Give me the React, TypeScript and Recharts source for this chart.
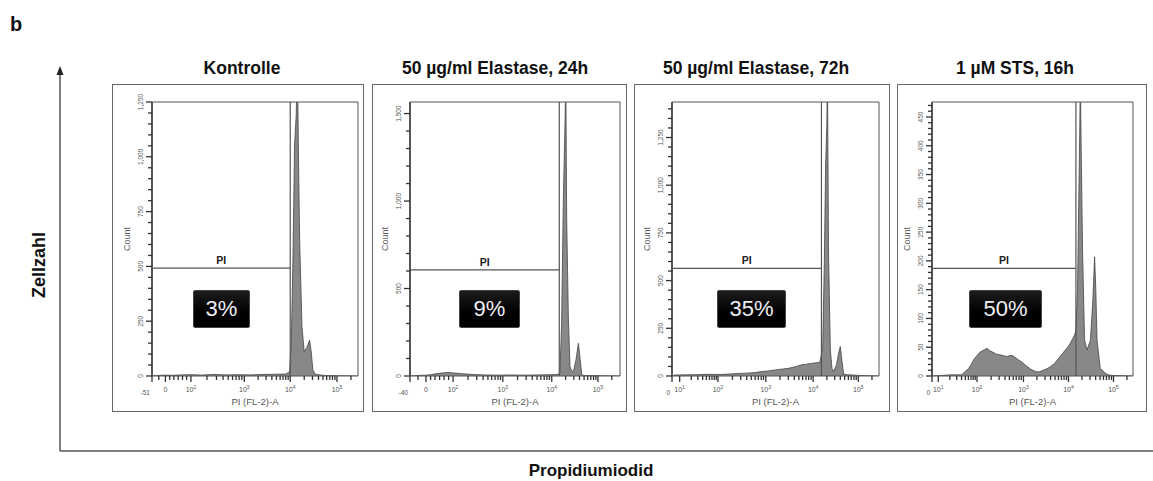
import React from 'react';
import { AreaChart, Area, XAxis, YAxis, ReferenceLine } from 'recharts';

const FONT = "'Liberation Sans', Arial, sans-serif";

// titles and gate results
const panelTitles = ['Kontrolle', '50 µg/ml Elastase, 24h', '50 µg/ml Elastase, 72h', '1 µM STS, 16h'];
const percentLabels = ['3%', '9%', '35%', '50%'];

// PI gate: marker height (count) and upper channel bound
const gateCounts = [492, 606, 564, 187];
const gateChannels = [671, 711, 722, 716];

// y-axis (Count) ranges and ticks
const countMax = [1250, 1566, 1436, 476];
const countMajors = [
  [0, 250, 500, 750, 1000, 1250],
  [0, 500, 1000, 1500],
  [0, 250, 500, 750, 1000, 1250],
  [0, 50, 100, 150, 200, 250, 300, 350, 400, 450],
];
const countMinorStep = [50, 100, 50, 10];

// x-axis (PI (FL-2)-A) in display channels 0..1000
const channelTicks = [
  [0, 65, 189, 448, 671, 898],
  [0, 76, 205, 442, 675, 895],
  [0, 37, 222, 453, 682, 900],
  [0, 31, 224, 455, 679, 903],
];
const channelTickLabels = [
  ['-51', '0', '10^2', '10^3', '10^4', '10^5'],
  ['-40', '0', '10^2', '10^3', '10^4', '10^5'],
  ['0', '10^1', '10^2', '10^3', '10^4', '10^5'],
  ['0', '10^1', '10^2', '10^3', '10^4', '10^5'],
];

// histograms: channel and count
const kontrolleChannel = [0, 20, 60, 100, 140, 190, 240, 300, 360, 420, 480, 540, 600, 650, 668, 676, 684, 692, 700, 706, 711, 717, 728, 739, 752, 765, 773, 781, 793, 805, 817, 840, 1000];
const kontrolleCount = [0, 2, 4, 3, 5, 6, 4, 7, 5, 6, 5, 7, 8, 9, 20, 150, 520, 1050, 1190, 1450, 1000, 608, 225, 111, 130, 164, 110, 27, 8, 6, 5, 2, 0];

const elastase24Channel = [0, 40, 80, 103, 130, 160, 181, 210, 250, 308, 360, 420, 480, 540, 600, 660, 700, 714, 722, 730, 738, 742, 746, 754, 762, 770, 778, 790, 802, 810, 818, 840, 900, 1000];
const elastase24Count = [0, 3, 5, 8, 14, 18, 20, 17, 13, 8, 6, 5, 6, 5, 6, 7, 8, 15, 300, 1000, 1434, 1700, 910, 339, 53, 30, 25, 90, 187, 100, 5, 3, 2, 0];

const elastase72Channel = [0, 14, 60, 120, 180, 240, 300, 360, 400, 432, 470, 500, 530, 562, 600, 624, 650, 673, 700, 715, 728, 736, 742, 748, 751, 756, 765, 773, 781, 795, 805, 813, 821, 829, 850, 880, 901, 1000];
const elastase72Count = [0, 5, 6, 7, 9, 8, 12, 15, 18, 23, 27, 32, 36, 40, 50, 58, 62, 66, 70, 72, 150, 600, 1100, 1315, 1600, 660, 136, 40, 23, 60, 120, 154, 80, 10, 6, 5, 3, 0];

const stsChannel = [0, 91, 149, 165, 182, 195, 207, 225, 241, 258, 274, 287, 299, 320, 348, 370, 398, 415, 431, 448, 464, 490, 514, 530, 547, 568, 589, 610, 630, 647, 663, 680, 697, 710, 716, 724, 730, 735, 738, 742, 749, 759, 771, 788, 800, 809, 815, 821, 837, 862, 877, 900, 1000];
const stsCount = [0, 2, 2, 8, 13, 20, 28, 36, 42, 45, 48, 44, 42, 38, 36, 34, 36, 32, 28, 24, 19, 12, 8, 7, 9, 12, 16, 22, 31, 38, 45, 52, 63, 72, 80, 150, 300, 424, 520, 400, 219, 63, 45, 62, 130, 207, 150, 63, 13, 5, 2, 1, 0];

const channels = [kontrolleChannel, elastase24Channel, elastase72Channel, stsChannel];
const counts = [kontrolleCount, elastase24Count, elastase72Count, stsCount];

// panel geometry
const TOP = 84;
const BOX_H = 328;
const layout = [
  { left: 112, width: 252, axisW: 40, right: 6, titleX: 242, pct: [193, 57] },
  { left: 372, width: 255, axisW: 38, right: 7, titleX: 495, pct: [459, 61] },
  { left: 634, width: 256, axisW: 38, right: 11, titleX: 756, pct: [717, 69] },
  { left: 897, width: 250, axisW: 35, right: 14, titleX: 1015, pct: [969, 73] },
];

const AXIS = '#555';
const TICK = '#333';
const LABEL = '#555';

function minorChannelTicks(majors: number[], labels: string[]) {
  const out: number[] = [];
  const dec = majors.filter((_, i) => labels[i].includes('^'));
  for (let i = 0; i < dec.length - 1; i++) {
    for (let m = 2; m <= 9; m++) out.push(Math.round(dec[i] + Math.log10(m) * (dec[i + 1] - dec[i])));
  }
  const w = dec[dec.length - 1] - dec[dec.length - 2];
  for (let m = 2; m <= 9; m++) {
    const p = Math.round(dec[dec.length - 1] + Math.log10(m) * w);
    if (p < 1000) out.push(p);
  }
  if (labels[1] === '0') {
    // linear part between 0 and first decade
    for (let k = 1; k < 6; k++) out.push(Math.round(majors[1] + (k / 6) * (dec[0] - majors[1])));
    out.push(Math.round(majors[1] / 2));
  }
  return out;
}

function ChannelTick(props: any) {
  const { x, y, payload, majors, labels } = props;
  const v = payload.value;
  const idx = majors.indexOf(v);
  const major = idx >= 0;
  const len = major ? 6 : 4;
  let label = null;
  if (major) {
    const s: string = labels[idx];
    if (v === 0) {
      label = (
        <text x={x - 2} y={y + 19} textAnchor="end" fontSize={6.5} fill={LABEL} fontFamily={FONT}>{s}</text>
      );
    } else if (s.includes('^')) {
      const [base, exp] = s.split('^');
      label = (
        <text x={x} y={y + 16} textAnchor="middle" fontSize={7} fill={LABEL} fontFamily={FONT}>
          {base}
          <tspan dy={-3} fontSize={5}>{exp}</tspan>
        </text>
      );
    } else {
      label = (
        <text x={x} y={y + 16} textAnchor="middle" fontSize={7} fill={LABEL} fontFamily={FONT}>{s}</text>
      );
    }
  }
  return (
    <g>
      <path d={`M${x},${y}V${y + len}`} stroke={TICK} strokeWidth={1.3} fill="none" />
      {label}
    </g>
  );
}

function CountTick(props: any) {
  const { x, y, payload, majors } = props;
  const v = payload.value;
  const major = majors.includes(v);
  const len = major ? 6 : 4;
  return (
    <g>
      <path d={`M${x - len},${y}H${x}`} stroke={TICK} strokeWidth={1.3} fill="none" />
      {major && (
        <text
          transform={`translate(${x - 9.5},${y}) rotate(-90)`}
          textAnchor="middle"
          fontSize={6.5}
          fill={LABEL}
          fontFamily={FONT}
        >
          {v.toLocaleString('en-US')}
        </text>
      )}
    </g>
  );
}

function Histogram({ i }: { i: number }) {
  const g = layout[i];
  const rows = channels[i].map((x, k) => ({ x, c: counts[i][k] }));
  const majorsX = channelTicks[i];
  const xTicks = [...majorsX, ...minorChannelTicks(majorsX, channelTickLabels[i])].sort((a, b) => a - b);
  const yMajors = countMajors[i];
  const yTicks: number[] = [];
  for (let v = 0; v <= countMax[i]; v += countMinorStep[i]) yTicks.push(v);

  return (
    <div style={{ position: 'absolute', left: g.left, top: TOP, width: g.width, height: BOX_H }}>
      <AreaChart
        width={g.width}
        height={BOX_H}
        data={rows}
        margin={{ top: 18, right: g.right, bottom: 0, left: 0 }}
      >
        <XAxis
          type="number"
          dataKey="x"
          domain={[0, 1000]}
          ticks={xTicks}
          interval={0}
          allowDataOverflow
          height={36}
          tickSize={0}
          tickMargin={0}
          tickLine={false}
          axisLine={{ stroke: AXIS, strokeWidth: 1.2 }}
          tick={(p: any) => <ChannelTick {...p} majors={majorsX} labels={channelTickLabels[i]} />}
          label={(p: any) => {
            const vb = p.viewBox;
            return (
              <text x={vb.x + vb.width / 2} y={vb.y + 29} textAnchor="middle" fontSize={9.5} fill={LABEL} fontFamily={FONT}>
                PI (FL-2)-A
              </text>
            );
          }}
        />
        <YAxis
          type="number"
          domain={[0, countMax[i]]}
          ticks={yTicks}
          interval={0}
          allowDataOverflow
          width={g.axisW}
          tickSize={0}
          tickMargin={0}
          tickLine={false}
          axisLine={{ stroke: AXIS, strokeWidth: 2 }}
          tick={(p: any) => <CountTick {...p} majors={yMajors} />}
          label={(p: any) => {
            const vb = p.viewBox;
            const cx = vb.x + vb.width - 22;
            const cy = vb.y + vb.height / 2;
            return (
              <text transform={`translate(${cx},${cy}) rotate(-90)`} textAnchor="middle" fontSize={9} fill={LABEL} fontFamily={FONT}>
                Count
              </text>
            );
          }}
        />
        <Area
          type="linear"
          dataKey="c"
          stroke="#444"
          strokeWidth={0.8}
          fill="#888"
          fillOpacity={1}
          isAnimationActive={false}
          dot={false}
          activeDot={false}
        />
        <ReferenceLine y={countMax[i]} stroke={AXIS} strokeWidth={1} />
        <ReferenceLine x={1000} stroke={AXIS} strokeWidth={1} />
        <ReferenceLine x={gateChannels[i]} stroke="#555" strokeWidth={1.2} />
        <ReferenceLine
          segment={[{ x: 0, y: gateCounts[i] }, { x: gateChannels[i], y: gateCounts[i] }]}
          stroke="#555"
          strokeWidth={1.2}
          label={{ value: 'PI', position: 'top', offset: 4, fontSize: 10.5, fontWeight: 'bold', fill: '#222', fontFamily: FONT }}
        />
      </AreaChart>
    </div>
  );
}

export default function App() {
  return (
    <div style={{ position: 'absolute', left: 0, top: 0, width: 1153, height: 481, background: '#fff', fontFamily: FONT, overflow: 'hidden' }}>
      <svg width={1153} height={481} style={{ position: 'absolute', left: 0, top: 0 }}>
        <text x={10} y={31} fontSize={20} fontWeight="bold" fill="#111" fontFamily={FONT}>b</text>
        <line x1={60} y1={74} x2={60} y2={451} stroke="#555" strokeWidth={1.5} />
        <polygon points="60,66 56.5,75 63.5,75" fill="#222" />
        <line x1={60} y1={451} x2={1153} y2={451} stroke="#555" strokeWidth={1.5} />
        <text transform="translate(45,265) rotate(-90)" textAnchor="middle" fontSize={18} fontWeight="bold" fill="#111" fontFamily={FONT}>
          Zellzahl
        </text>
        <text x={591} y={476} textAnchor="middle" fontSize={17} fontWeight="bold" fill="#111" fontFamily={FONT}>
          Propidiumiodid
        </text>
        {layout.map((g, i) => (
          <text key={i} x={g.titleX} y={74} textAnchor="middle" fontSize={17.5} fontWeight="bold" fill="#111" fontFamily={FONT}>
            {panelTitles[i]}
          </text>
        ))}
      </svg>
      {layout.map((g, i) => (
        <div
          key={'box' + i}
          style={{ position: 'absolute', left: g.left, top: TOP, width: g.width, height: BOX_H, border: '1.5px solid #666', boxSizing: 'border-box' }}
        />
      ))}
      {layout.map((_, i) => (
        <Histogram key={'h' + i} i={i} />
      ))}
      {layout.map((g, i) => (
        <div
          key={'pct' + i}
          style={{
            position: 'absolute',
            left: g.pct[0],
            top: 290,
            width: g.pct[1],
            height: 38,
            background: 'linear-gradient(#1c1c1c, #000 60%)',
            border: '1px solid #444',
            borderRadius: 2,
            boxSizing: 'border-box',
            color: '#eef0f4',
            fontSize: 22,
            display: 'flex',
            alignItems: 'center',
            justifyContent: 'center',
          }}
        >
          {percentLabels[i]}
        </div>
      ))}
    </div>
  );
}
